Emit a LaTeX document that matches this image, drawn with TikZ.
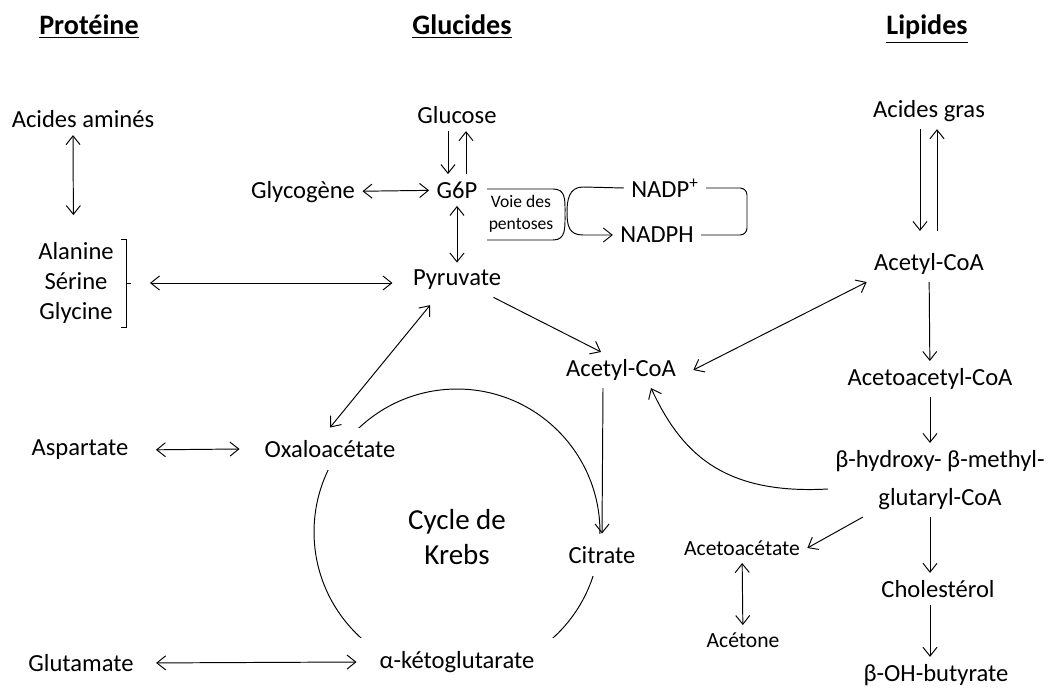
\documentclass[tikz,border=0pt]{standalone}
\usepackage{fontspec}
\setmainfont{Carlito}
\usetikzlibrary{arrows.meta}

\begin{document}
\begin{tikzpicture}
[
x=0.02cm, y=-0.02cm,
line width=0.55pt,
>={Straight Barb[length=5pt,width=8pt]},
mol/.style={font=\fontsize{14}{17}\selectfont, inner sep=4pt},
mol-s/.style={font=\fontsize{12.3}{15}\selectfont, inner sep=4pt},
head/.style={font=\fontsize{16}{19}\selectfont\bfseries, anchor=base},
cover/.style={mol, fill=white},
]
\useasboundingbox (0,0) rectangle (1051,689);
% cycle first, the white boxes cut it
\draw (457,532) circle [radius=2.86cm];

\node (prot)  [head] at (89,35)   {\underline{Protéine}};
\node (gluc)  [head] at (462,35)  {\underline{Glucides}};
\node (lip)   [head] at (927,35)  {\underline{Lipides}};

\node (aa)    [mol] at (83,119)   {Acides aminés};
\node (asg)   [mol, align=center] at (76,283) {Alanine\\Sérine\\Glycine};
\node (asp)   [mol] at (80,450)   {Aspartate};
\node (glut)  [mol] at (81,663)   {Glutamate};

\node (glc)   [mol] at (457,115)  {Glucose};
\node (g6p)   [mol] at (457,190)  {G6P};
\node (glyc)  [mol] at (303,192)  {Glycogène};
\node (pent)  [font=\fontsize{10}{12.5}\selectfont, align=center] at (521,214) {Voie des\\pentoses};
\node (nadp)  [mol] at (665,188)  {NADP\textsuperscript{+}};
\node (nadph) [mol] at (657,235)  {NADPH};
\node (pyr)   [mol] at (457,280)  {Pyruvate};
\node (acoa)  [mol] at (621,370)  {Acetyl-CoA};
\node (oxa)   [cover, minimum width=3.6cm, minimum height=0.84cm] at (330,449) {Oxaloacétate};
\node (krebs) [font=\fontsize{16.5}{20}\selectfont, align=center] at (457,537) {Cycle de\\Krebs};
\node (cit)   [cover, minimum width=2.2cm, minimum height=0.84cm] at (602,555) {Citrate};
\node (akg)   [cover, minimum width=4cm, minimum height=0.96cm] at (457,662) {α-kétoglutarate};

\node (ag)    [mol] at (929,111)  {Acides gras};
\node (acoa2) [mol] at (929,264)  {Acetyl-CoA};
\node (aacoa) [mol] at (930,379)  {Acetoacetyl-CoA};
\node (hmg)   [mol, align=center, font=\fontsize{14}{21.5}\selectfont] at (940,480) {β-hydroxy- β-methyl-\\glutaryl-CoA};
\node (aca)   [mol-s] at (742,548) {Acetoacétate};
\node (acet)  [mol-s] at (743,640) {Acétone};
\node (chol)  [mol] at (938,589)  {Cholestérol};
\node (ohb)   [mol] at (936,675)  {β-OH-butyrate};

% protein side
\draw (121,239) -- (126,239) -- (126,327) -- (121,327) (126,283) -- (131,283);
\coordinate (brk) at (131,283);
\draw [<->, shorten >=0.4cm] ([xshift=-0.2cm]aa.south) -- ([xshift=-0.05cm]asg.north);
\draw [<->, shorten <=0.38cm, shorten >=0.26cm] (brk) -- (brk -| pyr.west);
\draw [<->, shorten <=0.4cm] (asp.east) -- (oxa.west);
\draw [<->, shorten <=0.3cm] (glut.east) -- (akg.west);

% glucides
\draw [->] ([xshift=-0.18cm]glc.south) -- ([xshift=-0.18cm]g6p.north);
\draw [->] ([xshift=0.18cm]g6p.north) -- ([xshift=0.18cm]glc.south);
\draw [<->] (glyc) -- (g6p);
\draw [<->] (g6p) -- (pyr);
\draw [->] ([xshift=-0.3cm]pyr.south east) -- ([xshift=-0.4cm]acoa.north);
\draw [<->, shorten <=0.2cm] ([xshift=0.62cm]pyr.south west) -- (oxa.north);
\draw [->] ([xshift=-0.36cm]acoa.south) -- (cit.north);
\draw (487,189) -- (553,189) .. controls (566,189) and (565,200) .. (565,214)
      .. controls (565,228) and (566,240) .. (553,240) -- (487,240);
\draw [->] (nadp.west) -- (583,187) .. controls (569,187) and (567,200) .. (567,212)
      .. controls (567,226) and (569,235) .. (583,235) -- (nadph.west);
\draw [rounded corners=4pt] (nadp.east) -- (747,188) -- (747,235) -- (nadph.east);

% lipides
\draw [->, shorten >=0.3cm] ([xshift=-0.18cm]ag.south) -- ([xshift=-0.18cm]acoa2.north);
\draw [->, shorten <=0.3cm] ([xshift=0.16cm]acoa2.north) -- ([xshift=0.16cm]ag.south);
\draw [->] (acoa2) -- (aacoa);
\draw [->] (aacoa.south) -- (aacoa.south |- hmg.north);
\draw [->] (aacoa.south |- hmg.south) -- (aacoa.south |- chol.north);
\draw [->] (aacoa.south |- chol.south) -- (aacoa.south |- ohb.north);
\draw [->] ([xshift=0.7cm]hmg.south west) -- (aca.east);
\draw [<->] (aca) -- (acet);
\draw [<->] ([xshift=0.2cm]acoa.east) -- (acoa2.south west);
\draw [->] ([yshift=-0.18cm]hmg.west) .. controls (720,495) and (680,450) .. ([xshift=0.6cm]acoa.south);
\end{tikzpicture}
\end{document}
